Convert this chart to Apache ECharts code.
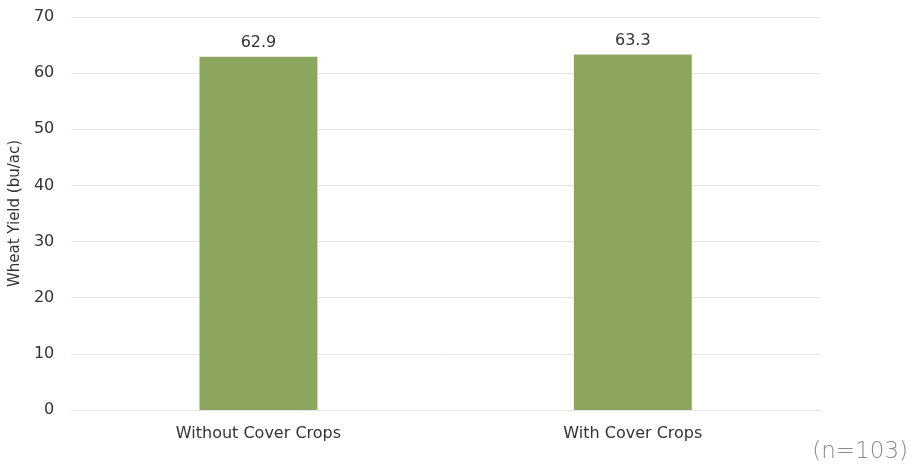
<!DOCTYPE html>
<html><head><meta charset="utf-8">
<script src="https://cdn.jsdelivr.net/npm/echarts@6/dist/echarts.min.js"></script>
<style>html,body{margin:0;padding:0;background:#fff}#c{width:912px;height:469px}</style>
</head><body><div id="c"></div>
<script>
var categories = ["Without Cover Crops", "With Cover Crops"];
var yieldValues = [62.9, 63.3];
var yTicks = [0, 10, 20, 30, 40, 50, 60, 70];

var chart = echarts.init(document.getElementById('c'));
chart.setOption({
  animation: false,
  textStyle: {fontFamily: 'DejaVu Sans'},
  grid: {left: 70, right: 92, top: 17, bottom: 59},
  xAxis: {
    type: 'category', data: categories,
    axisLine: {lineStyle: {color: '#e6e6e6'}},
    axisTick: {show: false},
    axisLabel: {color: '#333', fontSize: 16, margin: 16, fontFamily: 'DejaVu Sans'}
  },
  yAxis: {
    type: 'value', min: yTicks[0], max: yTicks[yTicks.length - 1], interval: 10,
    name: 'Wheat Yield (bu/ac)', nameLocation: 'middle', nameGap: 44,
    nameTextStyle: {color: '#333', fontSize: 15, fontFamily: 'DejaVu Sans'},
    axisLine: {show: false}, axisTick: {show: false},
    axisLabel: {color: '#333', fontSize: 16, margin: 17, fontFamily: 'DejaVu Sans'},
    splitLine: {lineStyle: {color: '#e8e8e8'}}
  },
  series: [{
    type: 'bar', data: yieldValues, barWidth: '31.5%',
    itemStyle: {color: '#8ca660'},
    label: {show: true, position: 'top', distance: 6, color: '#333', fontSize: 16, fontFamily: 'DejaVu Sans',
      formatter: function(p){return p.value.toFixed(1);}}
  }],
  graphic: [{
    type: 'text', right: 4, bottom: 5,
    style: {text: '(n=103)', fill: '#8a8a8a', fontSize: 23, fontFamily: 'DejaVu Sans', fontWeight: 200}
  }]
});
</script></body></html>
